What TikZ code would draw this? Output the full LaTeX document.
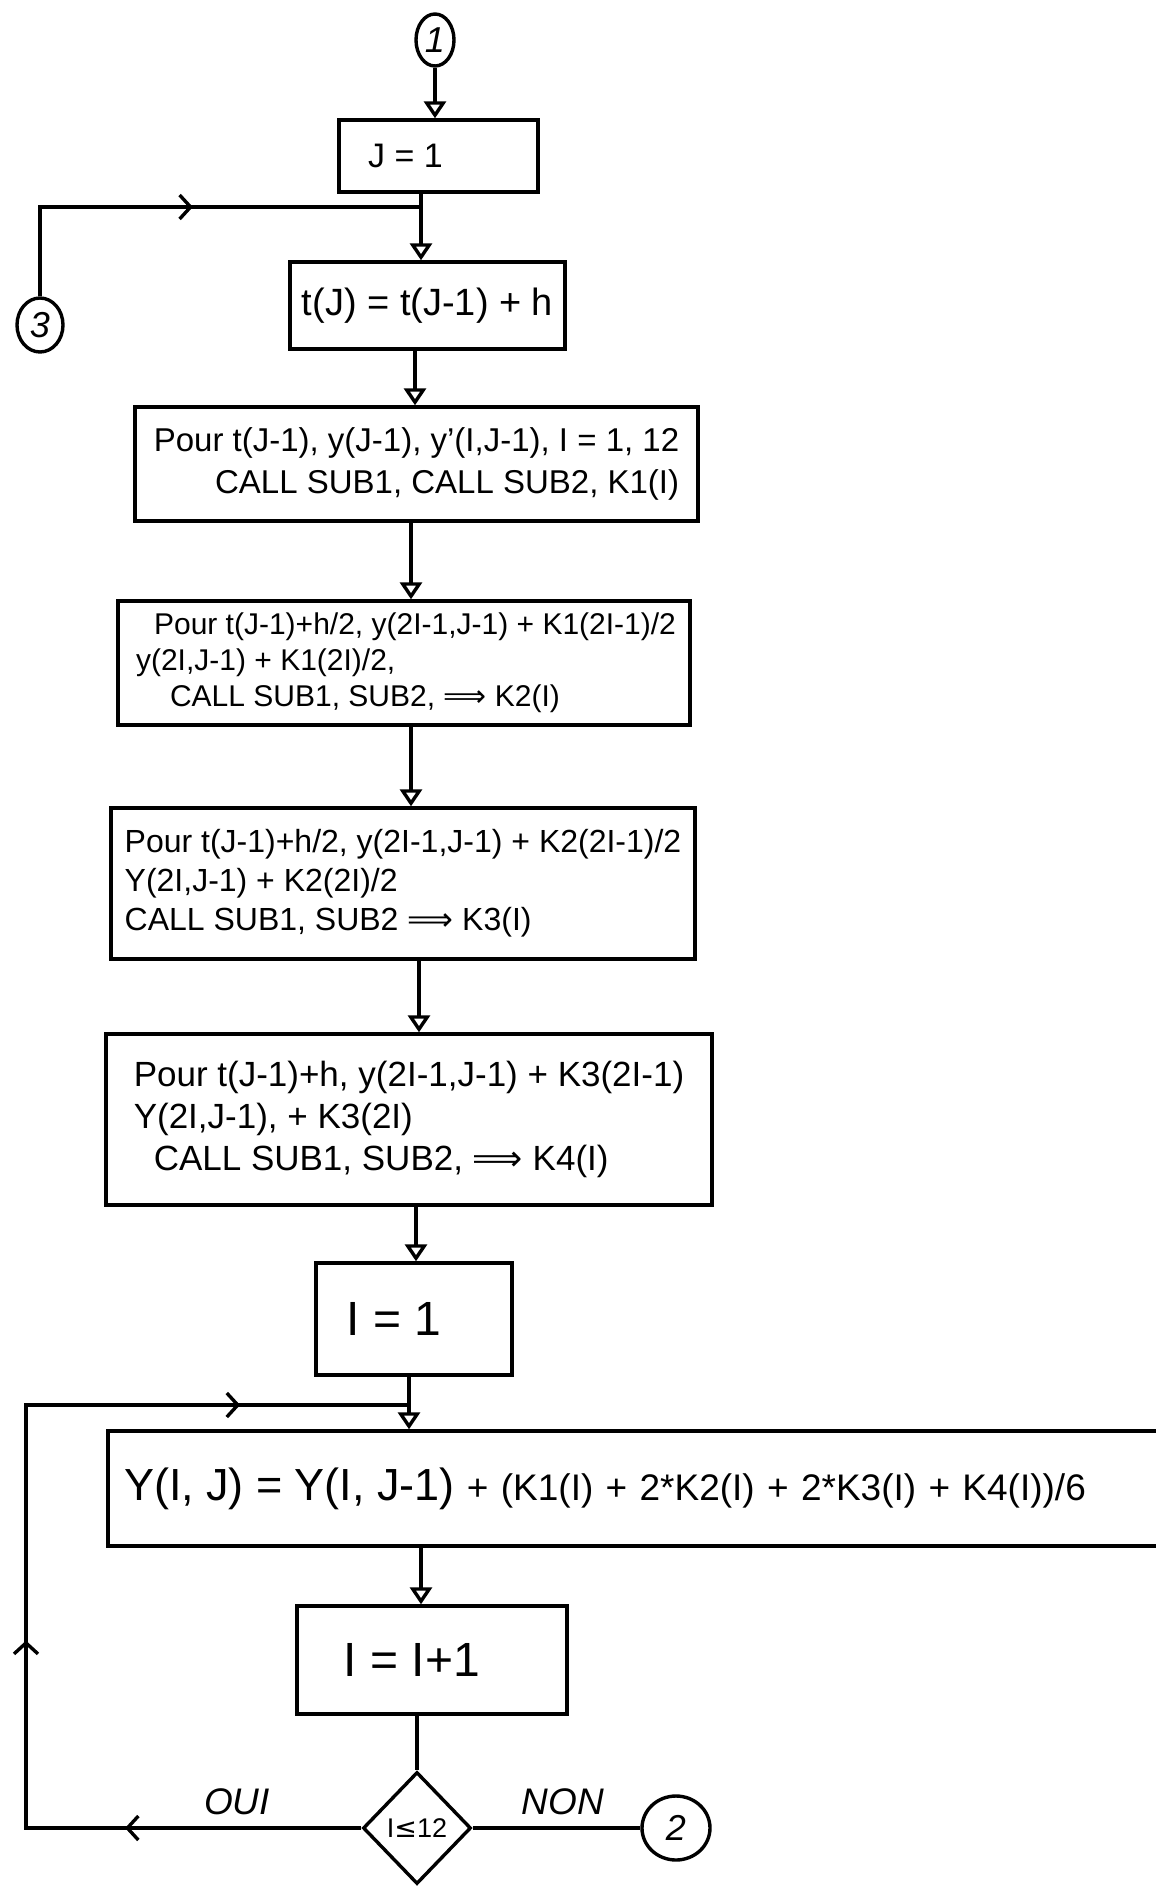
\documentclass[tikz,border=0pt]{standalone}
\usepackage{fontspec}
\setmainfont{Liberation Sans}
\newfontfamily\djv{DejaVu Sans}
\usetikzlibrary{arrows.meta,shapes.geometric,decorations.markings}
\newcommand{\impl}{{\djv ⟹}}
\begin{document}
\begin{tikzpicture}[x=1pt,y=-1pt,line width=3.4pt,line join=miter,
  box/.style={draw,rectangle,inner sep=0pt},
  conn/.style={draw,ellipse,inner sep=0pt,font=\fontsize{36}{36}\selectfont\itshape},
  flow/.style={-{Triangle[open,length=17pt,width=22pt]}},
  barb/.style={postaction={decorate},decoration={markings,
     mark=at position #1 with {\arrow{Straight Barb[length=11pt,width=24pt]}}}},
  lbl/.style={font=\fontsize{37}{37}\selectfont\itshape}
]
\useasboundingbox (0,0) rectangle (1156,1887);
\fill[white] (0,0) rectangle (1156,1887);

% connectors
\node[conn,minimum width=38pt,minimum height=52pt] (c1) at (435,40) {1};
\node[conn,minimum width=46pt,minimum height=54pt] (c3) at (40,325) {3};
\node[conn,minimum width=68pt,minimum height=64pt] (c2) at (676,1828) {2};

% boxes
\node[box,minimum width=199pt,minimum height=72pt,font=\fontsize{34}{34}\selectfont] (b1) at (438.5,156) {J = 1\hspace*{66pt}};
\node[box,minimum width=275pt,minimum height=87pt,font=\fontsize{38}{38}\selectfont] (b2) at (427.5,305.5) {t(J) = t(J-1) + h};
\node[box,minimum width=563pt,minimum height=114pt,align=right,font=\fontsize{33}{42}\selectfont] (b3) at (416.5,464)
  {Pour t(J-1), y(J-1), y'(I,J-1), I = 1, 12\\CALL SUB1, CALL SUB2, K1(I)};
\node[box,minimum width=572pt,minimum height=124pt,align=left,font=\fontsize{30}{36}\selectfont] (b4) at (404,663)
  {\hspace*{22pt}Pour t(J-1)+h/2, y(2I-1,J-1) + K1(2I-1)/2\\\hspace*{4pt}y(2I,J-1) + K1(2I)/2,\\\hspace*{38pt}CALL SUB1, SUB2, \impl\ K2(I)};
\node[box,minimum width=584pt,minimum height=151pt,align=left,font=\fontsize{32}{39}\selectfont] (b5) at (403,883.5)
  {Pour t(J-1)+h/2, y(2I-1,J-1) + K2(2I-1)/2\\Y(2I,J-1) + K2(2I)/2\\CALL SUB1, SUB2 \impl\ K3(I)};
\node[box,minimum width=606pt,minimum height=171pt,align=left,font=\fontsize{35}{42}\selectfont] (b6) at (409,1119.5)
  {Pour t(J-1)+h, y(2I-1,J-1) + K3(2I-1)\\Y(2I,J-1), + K3(2I)\\\hspace*{20pt}CALL SUB1, SUB2, \impl\ K4(I)};
\node[box,minimum width=196pt,minimum height=112pt,font=\fontsize{48}{48}\selectfont] (b7) at (414,1319) {I = 1\hspace*{40pt}};
\node[box,text width=1030pt,inner xsep=16pt,minimum height=115pt,align=left,font=\fontsize{37}{37}\selectfont] (b8) at (639,1488.5)
  {{\fontsize{45}{45}\selectfont Y(I, J) = Y(I, J-1)} + (K1(I) + 2*K2(I) + 2*K3(I) + K4(I))/6};
\node[box,minimum width=270pt,minimum height=108pt,font=\fontsize{48}{48}\selectfont] (b9) at (432,1660) {I = I+1\hspace*{40pt}};
\node[draw,diamond,inner sep=0pt,minimum width=108pt,minimum height=112pt,font=\fontsize{27}{27}\selectfont] (d) at (417,1828) {I{\djv ≤}12};

\node[lbl] (oui) at (237,1802) {OUI};
\node[lbl] (non) at (563,1802) {NON};

% helper coordinates
\coordinate (j1) at (421,207);
\coordinate (x23) at (415,0);
\coordinate (x34) at (411,0);
\coordinate (x45) at (411,0);
\coordinate (x56) at (419,0);
\coordinate (x67) at (416,0);
\coordinate (j2) at (409,1405);
\coordinate (x89) at (421,0);
\coordinate (lx) at (26,0);

% flow
\draw[flow] (c1.south) -- (c1.south |- b1.north);
\draw (b1.south -| j1) -- (j1);
\draw[flow] (j1) -- (b2.north -| j1);
\draw[barb=0.515] (c3.north) -- (c3.north |- j1) -- (j1);
\draw[flow] (b2.south -| x23) -- (b3.north -| x23);
\draw[flow] (b3.south -| x34) -- (b4.north -| x34);
\draw[flow] (b4.south -| x45) -- (b5.north -| x45);
\draw[flow] (b5.south -| x56) -- (b6.north -| x56);
\draw[flow] (b6.south -| x67) -- (b7.north -| x67);
\draw (b7.south -| j2) -- (j2);
\draw[flow] (j2) -- (b8.north -| j2);
\draw[flow] (b8.south -| x89) -- (b9.north -| x89);
\draw (b9.south -| d.north) -- (d.north);
\draw[postaction={decorate},decoration={markings,
     mark=at position 0.207 with {\arrow{Straight Barb[length=11pt,width=24pt]}},
     mark=at position 0.458 with {\arrow{Straight Barb[length=11pt,width=24pt]}},
     mark=at position 0.852 with {\arrow{Straight Barb[length=11pt,width=24pt]}}}]
  (d.west) -- (d.west -| lx) -- (j2 -| lx) -- (j2);
\draw (d.east) -- (c2.west);
\end{tikzpicture}
\end{document}
